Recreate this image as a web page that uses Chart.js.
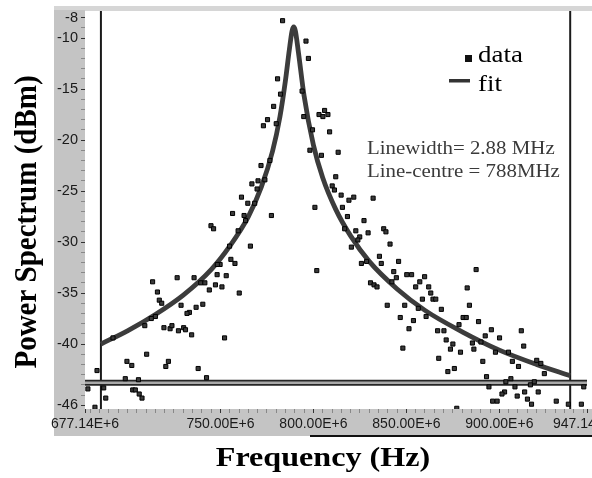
<!DOCTYPE html>
<html>
<head>
<meta charset="utf-8">
<script src="https://cdn.jsdelivr.net/npm/chart.js@4.4.1/dist/chart.umd.min.js"></script>
<style>
html, body { margin: 0; padding: 0; background: #fff; overflow: hidden; }
#wrap { width: 592px; height: 478px; }
</style>
</head>
<body>
<div id="wrap"><canvas id="spectrum" width="592" height="478"></canvas></div>
<script>
// measured points, frequency in MHz, power in dBm
const freq = [
  783.4, 780.7, 782.3, 778.6, 775.3, 773.1, 780.0, 796.0, 797.3, 793.9, 794.8, 803.0, 805.1, 806.0, 807.8, 799.5, 808.7,
  771.8, 776.6, 766.9, 770.2, 769.7, 773.9, 761.3, 764.7, 768.4, 756.5, 762.7, 777.4, 763.5, 744.9, 746.3, 759.5,
  754.9, 766.1, 755.6, 757.8, 749.8, 748.3, 760.1, 726.7, 735.8, 748.2, 753.1, 713.5, 739.4, 741.6, 747.3, 750.8,
  744.0, 716.1, 717.1, 718.4, 728.8, 740.5, 736.9, 733.3, 732.0, 715.0, 712.8, 709.3, 692.2, 719.6, 722.9, 723.9,
  727.4, 730.2, 731.2, 734.5, 752.2, 710.3, 699.7, 702.3, 722.0, 720.6, 738.0, 683.6, 698.8, 705.9, 742.5, 678.7,
  687.2, 688.3, 702.8, 704.2, 706.3, 707.8, 682.5,
  798.1, 804.3, 813.3, 812.0, 810.1, 811.3, 814.9, 819.1, 821.7, 832.1, 800.8, 815.6, 818.3, 827.2, 816.8, 822.8,
  829.4, 837.8, 839.0, 824.9, 823.9, 841.2, 820.4, 835.5, 825.8, 828.6, 836.5, 845.8, 801.8, 830.7, 832.6, 834.2,
  843.2, 844.6, 842.2, 839.7, 849.1, 846.7, 848.1, 850.2, 852.8, 859.8, 857.2, 855.0, 862.0, 882.7, 863.1, 858.6,
  864.3, 865.8, 856.4, 868.8, 883.9, 860.6, 880.5, 882.2, 853.8, 888.8, 878.3, 851.4, 895.7, 866.8, 870.2, 911.8,
  892.4, 900.1, 871.4, 885.5, 890.1, 875.0, 873.7, 879.1, 886.3, 897.9, 904.9, 913.1, 867.4, 891.1, 907.0, 920.1,
  922.3, 910.3, 875.8, 872.3, 924.2, 893.1, 906.2, 903.5, 918.8, 916.7, 894.4, 908.4, 913.6, 920.9, 902.8, 901.4,
  915.1, 909.6, 917.3, 896.4, 898.8, 930.6, 937.1, 944.1, 945.4, 877.1, 887.5
];
const power = [
  -8.3, -14.0, -15.5, -16.7, -18.0, -18.6, -18.4, -10.3, -12.0, -15.2, -17.7, -17.5, -17.7, -17.1, -17.5, -19.0, -19.2,
  -22.5, -22.0, -24.3, -24.0, -24.8, -23.9, -25.6, -26.2, -26.2, -27.2, -27.4, -27.4, -27.9, -28.4, -28.7, -28.9,
  -30.4, -30.4, -31.7, -32.1, -32.2, -32.2, -35.0, -33.5, -33.5, -33.2, -33.3, -33.9, -34.0, -34.0, -34.2, -34.4,
  -34.7, -34.9, -35.7, -36.0, -36.2, -36.1, -36.4, -36.9, -37.0, -37.3, -37.5, -38.2, -39.4, -38.4, -38.5, -38.2,
  -38.7, -38.4, -38.6, -39.1, -39.4, -41.0, -41.7, -42.1, -41.7, -42.2, -42.4, -42.6, -43.4, -43.5, -43.3, -44.4,
  -44.3, -45.3, -44.5, -44.5, -44.9, -45.3, -46.2,
  -21.0, -21.5, -21.2, -23.6, -24.5, -24.9, -25.4, -25.9, -25.6, -25.7, -26.6, -26.6, -27.5, -27.9, -28.7, -28.9,
  -29.1, -28.7, -29.0, -29.5, -29.8, -30.2, -30.5, -31.4, -32.1, -31.9, -32.1, -31.9, -32.8, -34.0, -34.2, -34.4,
  -32.9, -33.5, -33.9, -36.2, -36.2, -37.4, -40.4, -33.2, -33.2, -33.4, -33.9, -34.4, -34.4, -34.5, -35.0, -35.6,
  -35.6, -35.6, -36.5, -36.6, -36.2, -37.3, -37.4, -37.4, -37.7, -37.8, -38.1, -38.5, -38.6, -38.7, -38.7, -38.7,
  -39.2, -39.4, -39.6, -39.9, -39.8, -40.0, -40.5, -40.8, -40.5, -40.8, -40.8, -40.2, -41.4, -41.7, -41.7, -41.6,
  -41.9, -42.2, -42.4, -42.7, -42.9, -43.2, -43.4, -43.7, -43.7, -44.0, -44.2, -44.2, -44.7, -44.7, -44.7, -44.9,
  -45.4, -45.1, -45.9, -45.6, -45.6, -45.6, -45.9, -45.9, -44.2, -46.3, -32.7
];

// fit curve
const fitFreq = [685.7, 700, 715, 730, 745, 755, 765, 772, 778, 782, 785, 787, 788.5, 789.4,
  790.3, 792, 795, 800, 805, 812, 820, 830, 845, 860, 880, 900, 920, 938.1];
const fitPower = [-40.0, -38.7, -37.1, -35.2, -32.7, -30.4, -27.5, -24.6, -21.1, -17.7, -14.1, -11.2, -9.3, -8.9,
  -9.3, -11.5, -15.7, -20.5, -23.7, -26.8, -29.4, -31.9, -34.6, -36.7, -38.8, -40.6, -42.0, -43.1];

// cursors of the analyser
const cursorFreq = [685.7, 938.1];
const cursorLevel = -43.8;

const xMin = 677.14, xMax = 947.14;
const yMin = -46.37, yMax = -7.35;
const xTickLabels = [677.14, 750, 800, 850, 900, 947.14];
const yTickLabels = [-8, -10, -15, -20, -25, -30, -35, -40, -46];

const xTitle = "Frequency (Hz)";
const yTitle = "Power Spectrum (dBm)";
const noteLines = ["Linewidth= 2.88 MHz", "Line-centre = 788MHz"];
const legendNames = ["data", "fit"];

const points = freq.map((f, i) => ({x: f, y: power[i]}));
const fitPts = fitFreq.map((f, i) => ({x: f, y: fitPower[i]}));

function stretchText(ctx, txt, x, y, font, sx, color) {
    ctx.save();
    ctx.font = font;
    ctx.fillStyle = color;
    ctx.textBaseline = "alphabetic";
    ctx.translate(x, y);
    ctx.scale(sx, 1);
    ctx.fillText(txt, 0, 0);
    ctx.restore();
}

const frame = {
    id: "frame",
    beforeDraw(chart) {
        const ctx = chart.ctx;
        const a = chart.chartArea;
        ctx.save();
        ctx.fillStyle = "#d6d6d6";
        ctx.fillRect(54, 6, chart.width - 54, 5);
        ctx.fillStyle = "#c4c4c4";
        ctx.fillRect(54, 10, a.left - 54, 436 - 10);
        ctx.fillRect(54, a.bottom, chart.width - 54, 436 - a.bottom);
        ctx.fillStyle = "#111";
        ctx.fillRect(310, 435, chart.width - 310, 2);
        ctx.restore();
    },
    afterDraw(chart) {
        const ctx = chart.ctx;
        ctx.save();
        // axis titles
        ctx.font = 'bold 27px "Liberation Serif"';
        ctx.textAlign = "center";
        ctx.fillStyle = "#000";
        ctx.translate(323, 466);
        ctx.scale(1.19, 1);
        ctx.fillText(xTitle, 0, 0);
        ctx.restore();

        ctx.save();
        ctx.font = 'bold 29px "Liberation Serif"';
        ctx.textAlign = "center";
        ctx.fillStyle = "#000";
        ctx.translate(36, 222);
        ctx.rotate(-Math.PI / 2);
        ctx.scale(1, 1.1);
        ctx.fillText(yTitle, 0, 0);
        ctx.restore();

        // legend
        ctx.save();
        ctx.fillStyle = "#111";
        ctx.fillRect(465, 55, 7, 7);
        ctx.fillStyle = "#333";
        ctx.fillRect(449, 79, 21, 3.5);
        ctx.restore();
        stretchText(ctx, legendNames[0], 478, 62, '23px "Liberation Serif"', 1.17, "#000");
        stretchText(ctx, legendNames[1], 478, 91, '23px "Liberation Serif"', 1.17, "#000");

        // fit results
        stretchText(ctx, noteLines[0], 367, 154, '19px "Liberation Serif"', 1.1, "#3a3a3a");
        stretchText(ctx, noteLines[1], 367, 177, '19px "Liberation Serif"', 1.1, "#3a3a3a");
    }
};

const ctx = document.getElementById("spectrum");

const myChart = new Chart(ctx, {
    type: "scatter",
    data: {
        datasets: [
            {
                label: "data",
                data: points,
                pointStyle: "rect",
                pointRadius: 2.9,
                backgroundColor: "#3a3a3a",
                borderColor: "#000",
                borderWidth: 1,
            },
            {
                label: "fit",
                data: fitPts,
                showLine: true,
                cubicInterpolationMode: "monotone",
                borderColor: "#3c3c3c",
                borderWidth: 4.8,
                pointRadius: 0,
            },
            {
                label: "cursor level inner",
                data: [{x: xMin, y: cursorLevel}, {x: xMax, y: cursorLevel}],
                showLine: true,
                borderColor: "#a9a9a9",
                borderWidth: 2.5,
                pointRadius: 0,
            },
            {
                label: "cursor level",
                data: [{x: xMin, y: cursorLevel}, {x: xMax, y: cursorLevel}],
                showLine: true,
                borderColor: "#262626",
                borderWidth: 6,
                pointRadius: 0,
            },
            {
                label: "cursor a",
                data: [{x: cursorFreq[0], y: yMin}, {x: cursorFreq[0], y: yMax}],
                showLine: true,
                borderColor: "#1a1a1a",
                borderWidth: 2,
                pointRadius: 0,
            },
            {
                label: "cursor b",
                data: [{x: cursorFreq[1], y: yMin}, {x: cursorFreq[1], y: yMax}],
                showLine: true,
                borderColor: "#1a1a1a",
                borderWidth: 2,
                pointRadius: 0,
            },
        ],
    },
    options: {
        responsive: false,
        animation: false,
        devicePixelRatio: 1,
        layout: {padding: {top: 11, left: 0, right: 0, bottom: 0}},
        plugins: {
            legend: {display: false},
            tooltip: {enabled: false},
        },
        scales: {
            x: {
                type: "linear",
                min: xMin,
                max: xMax,
                afterBuildTicks: (s) => {
                    const t = [{value: xMin}];
                    for (let v = 680; v <= 945; v += 5) t.push({value: v});
                    t.push({value: xMax});
                    s.ticks = t;
                },
                afterFit: (s) => {
                    s.height = 69;
                    s.paddingLeft = 0;
                    s.paddingRight = 0;
                },
                ticks: {
                    autoSkip: false,
                    maxRotation: 0,
                    padding: 3,
                    color: "#1a1a1a",
                    font: {family: "Liberation Sans", size: 14},
                    callback: (v) => xTickLabels.includes(v) ? v.toFixed(2) + "E+6" : "",
                },
                grid: {
                    drawOnChartArea: false,
                    tickLength: 4,
                    tickColor: (c) => c.tick && c.tick.label ? "#333" : "#888",
                },
                border: {display: false},
            },
            y: {
                type: "linear",
                min: yMin,
                max: yMax,
                afterBuildTicks: (s) => {
                    const t = [];
                    for (let v = -46; v <= -8; v++) t.push({value: v});
                    s.ticks = t;
                },
                afterFit: (s) => {
                    s.width = 85;
                    s.paddingTop = 0;
                    s.paddingBottom = 0;
                },
                ticks: {
                    autoSkip: false,
                    padding: 3,
                    color: "#1a1a1a",
                    font: {family: "Liberation Sans", size: 14.5},
                    callback: (v) => yTickLabels.includes(v) ? String(v) : "",
                },
                grid: {
                    drawOnChartArea: false,
                    tickLength: 4,
                    tickColor: (c) => c.tick && c.tick.label ? "#333" : "#888",
                },
                border: {display: false},
            },
        },
    },
    plugins: [frame],
});
</script>
</body>
</html>
